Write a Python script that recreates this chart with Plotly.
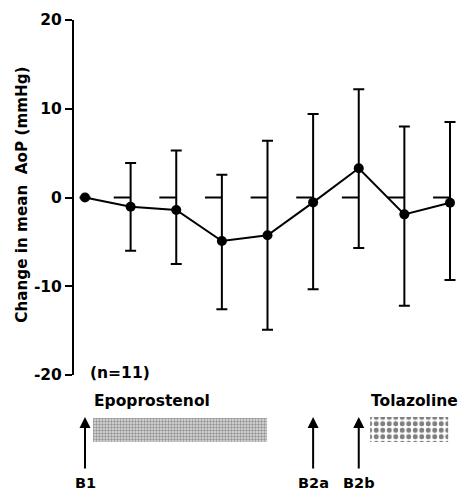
import plotly.graph_objects as go

# ---- data ----
time_index = [0, 1, 2, 3, 4, 5, 6, 7, 8]
mean_change = [0.0, -1.05, -1.4, -4.9, -4.25, -0.55, 3.3, -1.9, -0.6]
upper_sd = [None, 3.9, 5.3, 2.55, 6.4, 9.4, 12.2, 8.0, 8.5]
lower_sd = [None, -6.0, -7.5, -12.6, -14.9, -10.35, -5.7, -12.2, -9.3]
baseline_idx = [1, 2, 3, 4, 5, 6, 7, 8]   # points with a zero-reference dash
baseline_val = 0.0

y_tickvals = [20, 10, 0, -10, -20]
y_ticktext = ["20", "10", "0", "-10", "-20"]

event_idx = [0, 5, 6]
event_labels = ["B1", "B2a", "B2b"]

epo_start, epo_end = 0.175, 3.99
tol_start, tol_end = 6.25, 7.96

FONT = "DejaVu Sans"
W, H = 463, 493
TOP = 20
LOWER_PX = 118          # height of the lower (annotation) panel in px

err_plus = [None if u is None else u - m for u, m in zip(upper_sd, mean_change)]
err_minus = [None if l is None else m - l for l, m in zip(lower_sd, mean_change)]

fig = go.Figure()

# zero reference dashes (to the left of each error bar)
dash_x, dash_y = [], []
for i in baseline_idx:
    dash_x += [time_index[i] - 0.37, time_index[i], None]
    dash_y += [baseline_val, baseline_val, None]
fig.add_trace(go.Scatter(x=dash_x, y=dash_y, mode="lines",
                         line=dict(color="black", width=2), hoverinfo="skip",
                         showlegend=False))

fig.add_trace(go.Scatter(
    x=time_index, y=mean_change, mode="lines+markers",
    line=dict(color="black", width=2),
    marker=dict(color="black", size=10),
    error_y=dict(type="data", symmetric=False, array=err_plus, arrayminus=err_minus,
                 color="black", thickness=2, width=5.5),
    showlegend=False, cliponaxis=False))

# infusion bars in the lower panel
fig.add_trace(go.Bar(
    y=[63], x=[epo_end - epo_start], base=[epo_start], orientation="h", width=24,
    xaxis="x", yaxis="y2",
    marker=dict(color="white", line=dict(width=0),
                pattern=dict(shape=".", fgcolor="#4a4a4a", bgcolor="#dedede",
                             size=3, solidity=0.5)),
    showlegend=False, hoverinfo="skip"))
fig.add_trace(go.Bar(
    y=[63.5], x=[tol_end - tol_start], base=[tol_start], orientation="h", width=25,
    xaxis="x", yaxis="y2",
    marker=dict(color="white", line=dict(width=0),
                pattern=dict(shape=".", fgcolor="black", bgcolor="white",
                             size=6.5, solidity=0.45)),
    showlegend=False, hoverinfo="skip"))

bold = lambda s: dict(family=FONT, size=s, color="black", weight="bold")

split = LOWER_PX / (H - TOP)

annotations = []
annotations.append(dict(text="Change in mean  AoP (mmHg)", xref="paper", yref="y",
                        x=-0.134, y=0.3, textangle=-90, showarrow=False,
                        xanchor="center", yanchor="middle", font=bold(15.2)))
annotations.append(dict(text="(n=11)", xref="x", yref="paper", x=0.07,
                        y=(H - 372.5) / (H - TOP),
                        showarrow=False, xanchor="left", yanchor="middle",
                        font=bold(15.5)))
annotations.append(dict(text="Epoprostenol", xref="x", yref="y2", x=0.15, y=92,
                        showarrow=False, xanchor="left", yanchor="middle",
                        font=bold(15.5)))
annotations.append(dict(text="Tolazoline", xref="x", yref="y2", x=6.22, y=92,
                        showarrow=False, xanchor="left", yanchor="middle",
                        font=bold(15.5)))
for xi, lab in zip(event_idx, event_labels):
    annotations.append(dict(text="", x=xi, y=76, xref="x", yref="y2",
                            ax=xi, ay=23, axref="x", ayref="y2",
                            showarrow=True, arrowhead=2, arrowsize=1.1,
                            arrowwidth=2, arrowcolor="black"))
    annotations.append(dict(text=lab, x=xi, y=10, xref="x", yref="y2",
                            showarrow=False, xanchor="center", yanchor="middle",
                            font=bold(14.5)))

fig.update_layout(
    width=W, height=H,
    margin=dict(l=74, r=0, t=TOP, b=0, autoexpand=False),
    paper_bgcolor="white", plot_bgcolor="white",
    barmode="overlay",
    showlegend=False,
    xaxis=dict(range=[-0.241, 8.285], visible=False, fixedrange=True,
               automargin=False),
    yaxis=dict(domain=[split, 1], range=[-20, 20],
               tickvals=y_tickvals, ticktext=y_ticktext,
               ticks="outside", ticklen=7, tickwidth=2, tickcolor="black",
               showline=True, linewidth=2, linecolor="black",
               showgrid=False, zeroline=False, fixedrange=True, automargin=False,
               tickfont=bold(15.5)),
    yaxis2=dict(domain=[0, split], range=[0, LOWER_PX], visible=False,
                fixedrange=True, automargin=False),
    annotations=annotations,
)

fig.write_html("out.html",
               config={"displayModeBar": False},
               post_script="document.body.style.margin='0';"
                           "document.body.style.overflow='hidden';")
